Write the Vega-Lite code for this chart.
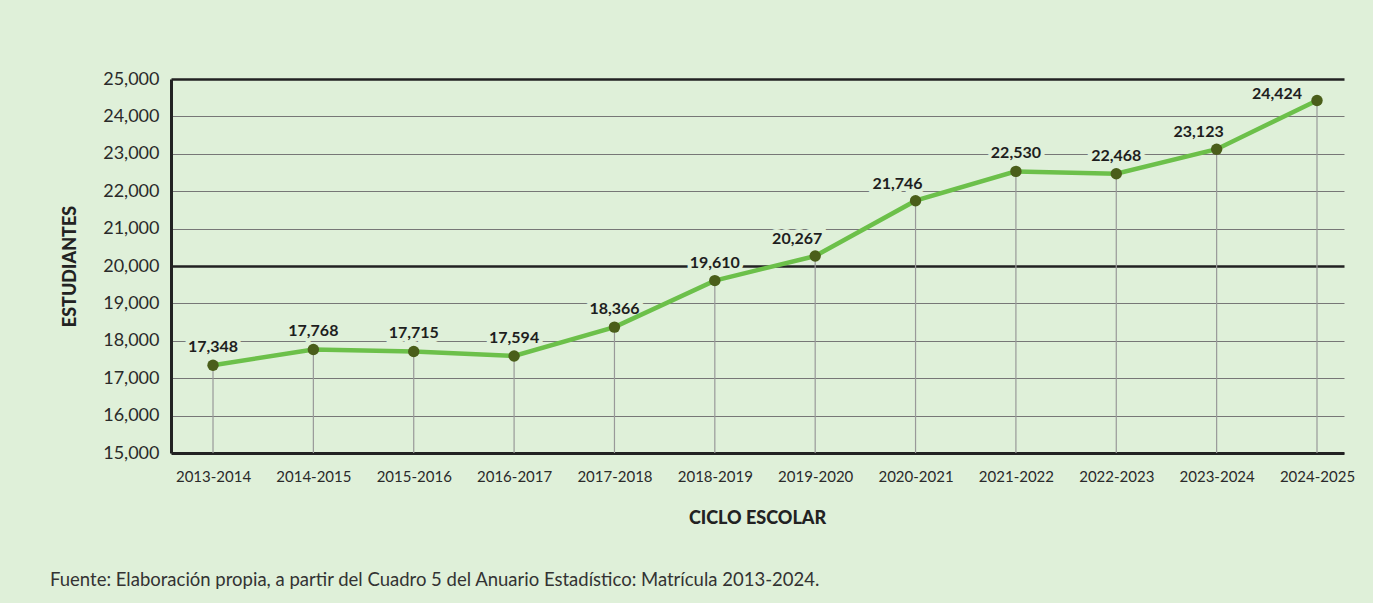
{
  "$schema": "https://vega.github.io/schema/vega-lite/v6.json",
  "width": 1173,
  "height": 374,
  "autosize": {"type": "none"},
  "padding": {"left": 171, "top": 79, "right": 29, "bottom": 150},
  "background": "#dff0d9",
  "config": {
    "view": {"stroke": null},
    "font": "Lato",
    "text": {"font": "Lato"}
  },
  "title": {
    "text": "Fuente: Elaboración propia, a partir del Cuadro 5 del Anuario Estadístico: Matrícula 2013-2024.",
    "orient": "bottom",
    "anchor": "start",
    "frame": "group",
    "font": "Lato",
    "fontSize": 18.5,
    "fontWeight": "normal",
    "color": "#333333",
    "dx": -121,
    "offset": 44
  },
  "data": {
    "values": [
      {"ciclo": "2013-2014", "estudiantes": 17348, "grupo": "c"},
      {"ciclo": "2014-2015", "estudiantes": 17768, "grupo": "c"},
      {"ciclo": "2015-2016", "estudiantes": 17715, "grupo": "c"},
      {"ciclo": "2016-2017", "estudiantes": 17594, "grupo": "c"},
      {"ciclo": "2017-2018", "estudiantes": 18366, "grupo": "c"},
      {"ciclo": "2018-2019", "estudiantes": 19610, "grupo": "c"},
      {"ciclo": "2019-2020", "estudiantes": 20267, "grupo": "l"},
      {"ciclo": "2020-2021", "estudiantes": 21746, "grupo": "l"},
      {"ciclo": "2021-2022", "estudiantes": 22530, "grupo": "c"},
      {"ciclo": "2022-2023", "estudiantes": 22468, "grupo": "c"},
      {"ciclo": "2023-2024", "estudiantes": 23123, "grupo": "l"},
      {"ciclo": "2024-2025", "estudiantes": 24424, "grupo": "ll"}
    ]
  },
  "encoding": {
    "x": {
      "field": "ciclo",
      "type": "ordinal",
      "sort": null,
      "scale": {"type": "point", "padding": 0.3438, "align": 0.6087},
      "axis": {
        "title": "CICLO ESCOLAR",
        "titleFont": "Lato",
        "titleFontSize": 18,
        "titleFontWeight": 900,
        "titleColor": "#222222",
        "titleX": 586,
        "titleY": 65,
        "titleBaseline": "middle",
        "labelFont": "Lato",
        "labelFontSize": 15,
        "labelColor": "#2a2a2a",
        "labelAngle": 0,
        "labelPadding": 16,
        "ticks": false,
        "grid": false,
        "domainColor": "#222222",
        "domainWidth": 3
      }
    },
    "y": {
      "field": "estudiantes",
      "type": "quantitative",
      "scale": {"domain": [15000, 25000], "nice": false, "zero": false},
      "axis": {
        "title": "ESTUDIANTES",
        "titleFont": "Lato",
        "titleFontSize": 18,
        "titleFontWeight": 900,
        "titleColor": "#222222",
        "titleX": -101,
        "titleY": 187,
        "titleBaseline": "middle",
        "titleAlign": "center",
        "values": [15000, 16000, 17000, 18000, 19000, 20000, 21000, 22000, 23000, 24000, 25000],
        "labelExpr": "format(datum.value, ',')",
        "labelFont": "Lato",
        "labelFontSize": 18,
        "labelColor": "#2a2a2a",
        "labelPadding": 12,
        "ticks": false,
        "domainColor": "#222222",
        "domainWidth": 3,
        "grid": true,
        "gridColor": {"condition": {"test": "datum.value == 20000 || datum.value == 25000", "value": "#222222"}, "value": "#777777"},
        "gridWidth": {"condition": {"test": "datum.value == 20000 || datum.value == 25000", "value": 2.5}, "value": 1},
        "gridOpacity": 1
      }
    }
  },
  "layer": [
    {
      "mark": {"type": "rule", "color": "#999999", "strokeWidth": 1.2},
      "encoding": {"y2": {"datum": 15000}}
    },
    {
      "transform": [{"filter": "datum.grupo == 'c'"}],
      "mark": {"type": "text", "fontSize": 16, "fontWeight": "bold", "dy": -18, "baseline": "middle", "align": "center", "stroke": "#dff0d9", "strokeWidth": 8, "fill": "#dff0d9"},
      "encoding": {"text": {"field": "estudiantes", "type": "quantitative", "format": ","}}
    },
    {
      "transform": [{"filter": "datum.grupo == 'l'"}],
      "mark": {"type": "text", "fontSize": 16, "fontWeight": "bold", "dy": -17, "dx": -18, "baseline": "middle", "align": "center", "stroke": "#dff0d9", "strokeWidth": 8, "fill": "#dff0d9"},
      "encoding": {"text": {"field": "estudiantes", "type": "quantitative", "format": ","}}
    },
    {
      "mark": {"type": "line", "color": "#6cc04a", "strokeWidth": 4.5}
    },
    {
      "mark": {"type": "point", "filled": true, "color": "#4a5e1a", "size": 130, "opacity": 1}
    },
    {
      "transform": [{"filter": "datum.grupo == 'c'"}],
      "mark": {"type": "text", "fontSize": 16, "fontWeight": "bold", "dy": -18, "baseline": "middle", "align": "center", "color": "#1e1e1e"},
      "encoding": {"text": {"field": "estudiantes", "type": "quantitative", "format": ","}}
    },
    {
      "transform": [{"filter": "datum.grupo == 'l'"}],
      "mark": {"type": "text", "fontSize": 16, "fontWeight": "bold", "dy": -17, "dx": -18, "baseline": "middle", "align": "center", "color": "#1e1e1e"},
      "encoding": {"text": {"field": "estudiantes", "type": "quantitative", "format": ","}}
    },
    {
      "transform": [{"filter": "datum.grupo == 'll'"}],
      "mark": {"type": "text", "fontSize": 16, "fontWeight": "bold", "dy": -7, "dx": -40, "baseline": "middle", "align": "center", "color": "#1e1e1e"},
      "encoding": {"text": {"field": "estudiantes", "type": "quantitative", "format": ","}}
    }
  ]
}
